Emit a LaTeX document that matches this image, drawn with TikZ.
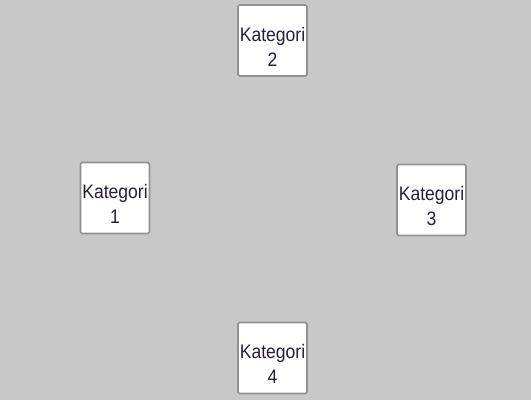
\documentclass[tikz,border=0pt]{standalone}
\usepackage{fontspec}
\setmainfont[FakeStretch=0.9]{Liberation Sans}
\definecolor{bg}{RGB}{200,200,200}
\definecolor{boxline}{RGB}{145,145,145}
\definecolor{txt}{RGB}{40,30,55}
\begin{document}
\begin{tikzpicture}[x=1pt,y=-1pt,
  catbox/.style={draw=boxline,line width=1.6pt,fill=white,rounded corners=1.5pt,
    minimum width=69pt,minimum height=71pt,inner sep=0pt},
  cattext/.style={text=txt,align=center,inner sep=0pt,
    font=\fontsize{19.5}{25}\selectfont}]
\fill[bg] (0,0) rectangle (531,400);
\useasboundingbox (0,0) rectangle (531,400);
\node[catbox] (b2) at (272.5,40.5) {};
\node[catbox] (b1) at (115,198) {};
\node[catbox] (b3) at (431.5,200) {};
\node[catbox] (b4) at (272.5,358) {};
\node[cattext] (t2) at ([yshift=-6pt]b2.center) {Kategori\\2};
\node[cattext] (t1) at ([yshift=-6pt]b1.center) {Kategori\\1};
\node[cattext] (t3) at ([yshift=-6pt]b3.center) {Kategori\\3};
\node[cattext] (t4) at ([yshift=-6pt]b4.center) {Kategori\\4};
\end{tikzpicture}
\end{document}
